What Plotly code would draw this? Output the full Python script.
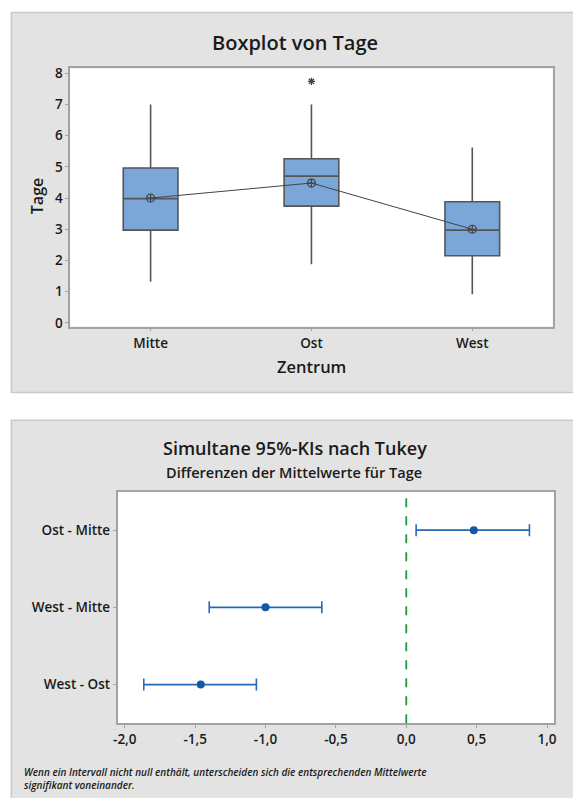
import plotly.graph_objects as go

# ---------- data ----------
zentren = ["Mitte", "Ost", "West"]
q1 = [2.97, 3.74, 2.15]
median = [3.98, 4.70, 2.97]
q3 = [4.96, 5.26, 3.88]
lower_whisker = [1.32, 1.88, 0.92]
upper_whisker = [7.0, 7.0, 5.62]
mittelwerte = [4.0, 4.48, 3.0]
ausreisser_x = ["Ost"]
ausreisser_y = [7.74]
y_ticks = [0, 1, 2, 3, 4, 5, 6, 7, 8]

vergleiche = ["Ost - Mitte", "West - Mitte", "West - Ost"]
diff = [0.48, -1.0, -1.46]
ki_unten = [0.07, -1.40, -1.865]
ki_oben = [0.875, -0.60, -1.065]
x2_ticks = [-2.0, -1.5, -1.0, -0.5, 0.0, 0.5, 1.0]
x2_ticktext = ["-2,0", "-1,5", "-1,0", "-0,5", "0,0", "0,5", "1,0"]
null_linie = 0.0

W, H = 573, 798
FONT = "Open Sans"
TXT = "#1a1a1a"
WT = 600

def px(x):
    return x / W

def py(y):
    return 1 - y / H

fig = go.Figure()

fig.add_trace(go.Box(
    x=zentren, q1=q1, median=median, q3=q3,
    lowerfence=lower_whisker, upperfence=upper_whisker,
    fillcolor="#7aa6d8", line=dict(color="#555555", width=1.6),
    whiskerwidth=0, width=0.34, boxpoints=False, hoverinfo="skip",
    xaxis="x", yaxis="y", showlegend=False,
))
fig.add_trace(go.Scatter(
    x=zentren, y=mittelwerte, mode="lines+markers",
    line=dict(color="#444444", width=1),
    marker=dict(symbol="circle-cross-open", size=8, color="#444444",
                line=dict(width=1.2)),
    xaxis="x", yaxis="y", showlegend=False,
))
fig.add_trace(go.Scatter(
    x=ausreisser_x, y=ausreisser_y, mode="markers",
    marker=dict(symbol="asterisk-open", size=6, color="#444444",
                line=dict(width=1.3, color="#444444")),
    xaxis="x", yaxis="y", showlegend=False,
))

err_plus = [o - d for o, d in zip(ki_oben, diff)]
err_minus = [d - u for d, u in zip(diff, ki_unten)]
fig.add_trace(go.Scatter(
    x=diff, y=vergleiche, mode="markers",
    marker=dict(symbol="circle", size=8, color="#1258a8"),
    error_x=dict(type="data", symmetric=False, array=err_plus,
                 arrayminus=err_minus, color="#2a68b4", thickness=1.6, width=6),
    xaxis="x2", yaxis="y2", showlegend=False,
))

top_dom_x = [px(67), px(555.5)]
top_dom_y = [py(325.7), py(64.3)]
bot_dom_x = [px(115), px(557)]
bot_dom_y = [py(727.3), py(492.7)]

shapes = []
# grey panels
for (x0, y0, x1, y1) in [(7.5, 7.5, 585, 392.5), (7.5, 420.5, 585, 810)]:
    shapes.append(dict(type="rect", xref="paper", yref="paper",
                       x0=px(x0), x1=px(x1), y0=py(y1), y1=py(y0),
                       fillcolor="#e3e3e3", line=dict(color="#c9c9c9", width=1.5),
                       layer="below"))
# white plot areas
for dx, dy in [(top_dom_x, top_dom_y), (bot_dom_x, bot_dom_y)]:
    shapes.append(dict(type="rect", xref="paper", yref="paper",
                       x0=dx[0], x1=dx[1], y0=dy[0], y1=dy[1],
                       fillcolor="white", line=dict(width=0), layer="below"))
shapes.append(dict(type="line", xref="x2", yref="y2 domain",
                   x0=null_linie, x1=null_linie, y0=0, y1=1,
                   line=dict(color="#1e9a3c", width=1.8, dash="dash")))

axis_common = dict(showline=True, mirror=True, linecolor="#a3a3a3", linewidth=1.5,
                   showgrid=False, zeroline=False, ticks="outside", ticklen=3,
                   tickcolor="#a3a3a3",
                   tickfont=dict(family=FONT, size=13.5, color=TXT, weight=WT))

def ann(text, x, y, size, angle=0, anchor="center", italic=False):
    return dict(text=text, x=px(x), y=py(y), xref="paper", yref="paper",
                showarrow=False, textangle=angle, align="left",
                font=dict(size=size, family=FONT, color=TXT, weight=WT,
                          style="italic" if italic else "normal"),
                xanchor=anchor, yanchor="middle")

fig.update_layout(
    width=W, height=H, margin=dict(l=0, r=0, t=0, b=0),
    paper_bgcolor="white", plot_bgcolor="white",
    font=dict(family=FONT, color=TXT),
    shapes=shapes,
    xaxis=dict(domain=top_dom_x, range=[-0.5, 2.5], type="category",
               anchor="y", **axis_common),
    yaxis=dict(domain=top_dom_y, range=[-0.12, 8.15], tickvals=y_ticks,
               anchor="x", **axis_common),
    xaxis2=dict(domain=bot_dom_x, range=[-2.051, 1.051], tickvals=x2_ticks,
                ticktext=x2_ticktext, anchor="y2", **axis_common),
    yaxis2=dict(domain=bot_dom_y, range=[2.5, -0.5], type="category",
                categoryorder="array", categoryarray=vergleiche,
                anchor="x2", **axis_common),
    annotations=[
        ann("Boxplot von Tage", 295, 38, 20),
        ann("Tage", 33, 194, 16, angle=-90),
        ann("Zentrum", 311, 366, 16.5),
        ann("Simultane 95%-KIs nach Tukey", 295, 449, 18),
        ann("Differenzen der Mittelwerte für Tage", 294, 473, 14.5),
        ann("Wenn ein Intervall nicht null enthält, unterscheiden sich die entsprechenden Mittelwerte<br>signifikant voneinander.",
            18, 783, 10, anchor="left", italic=True),
    ],
)

fig.write_html(
    "out.html",
    config={"displayModeBar": False},
    post_script="document.body.style.margin='0';document.body.style.overflow='hidden';",
)
